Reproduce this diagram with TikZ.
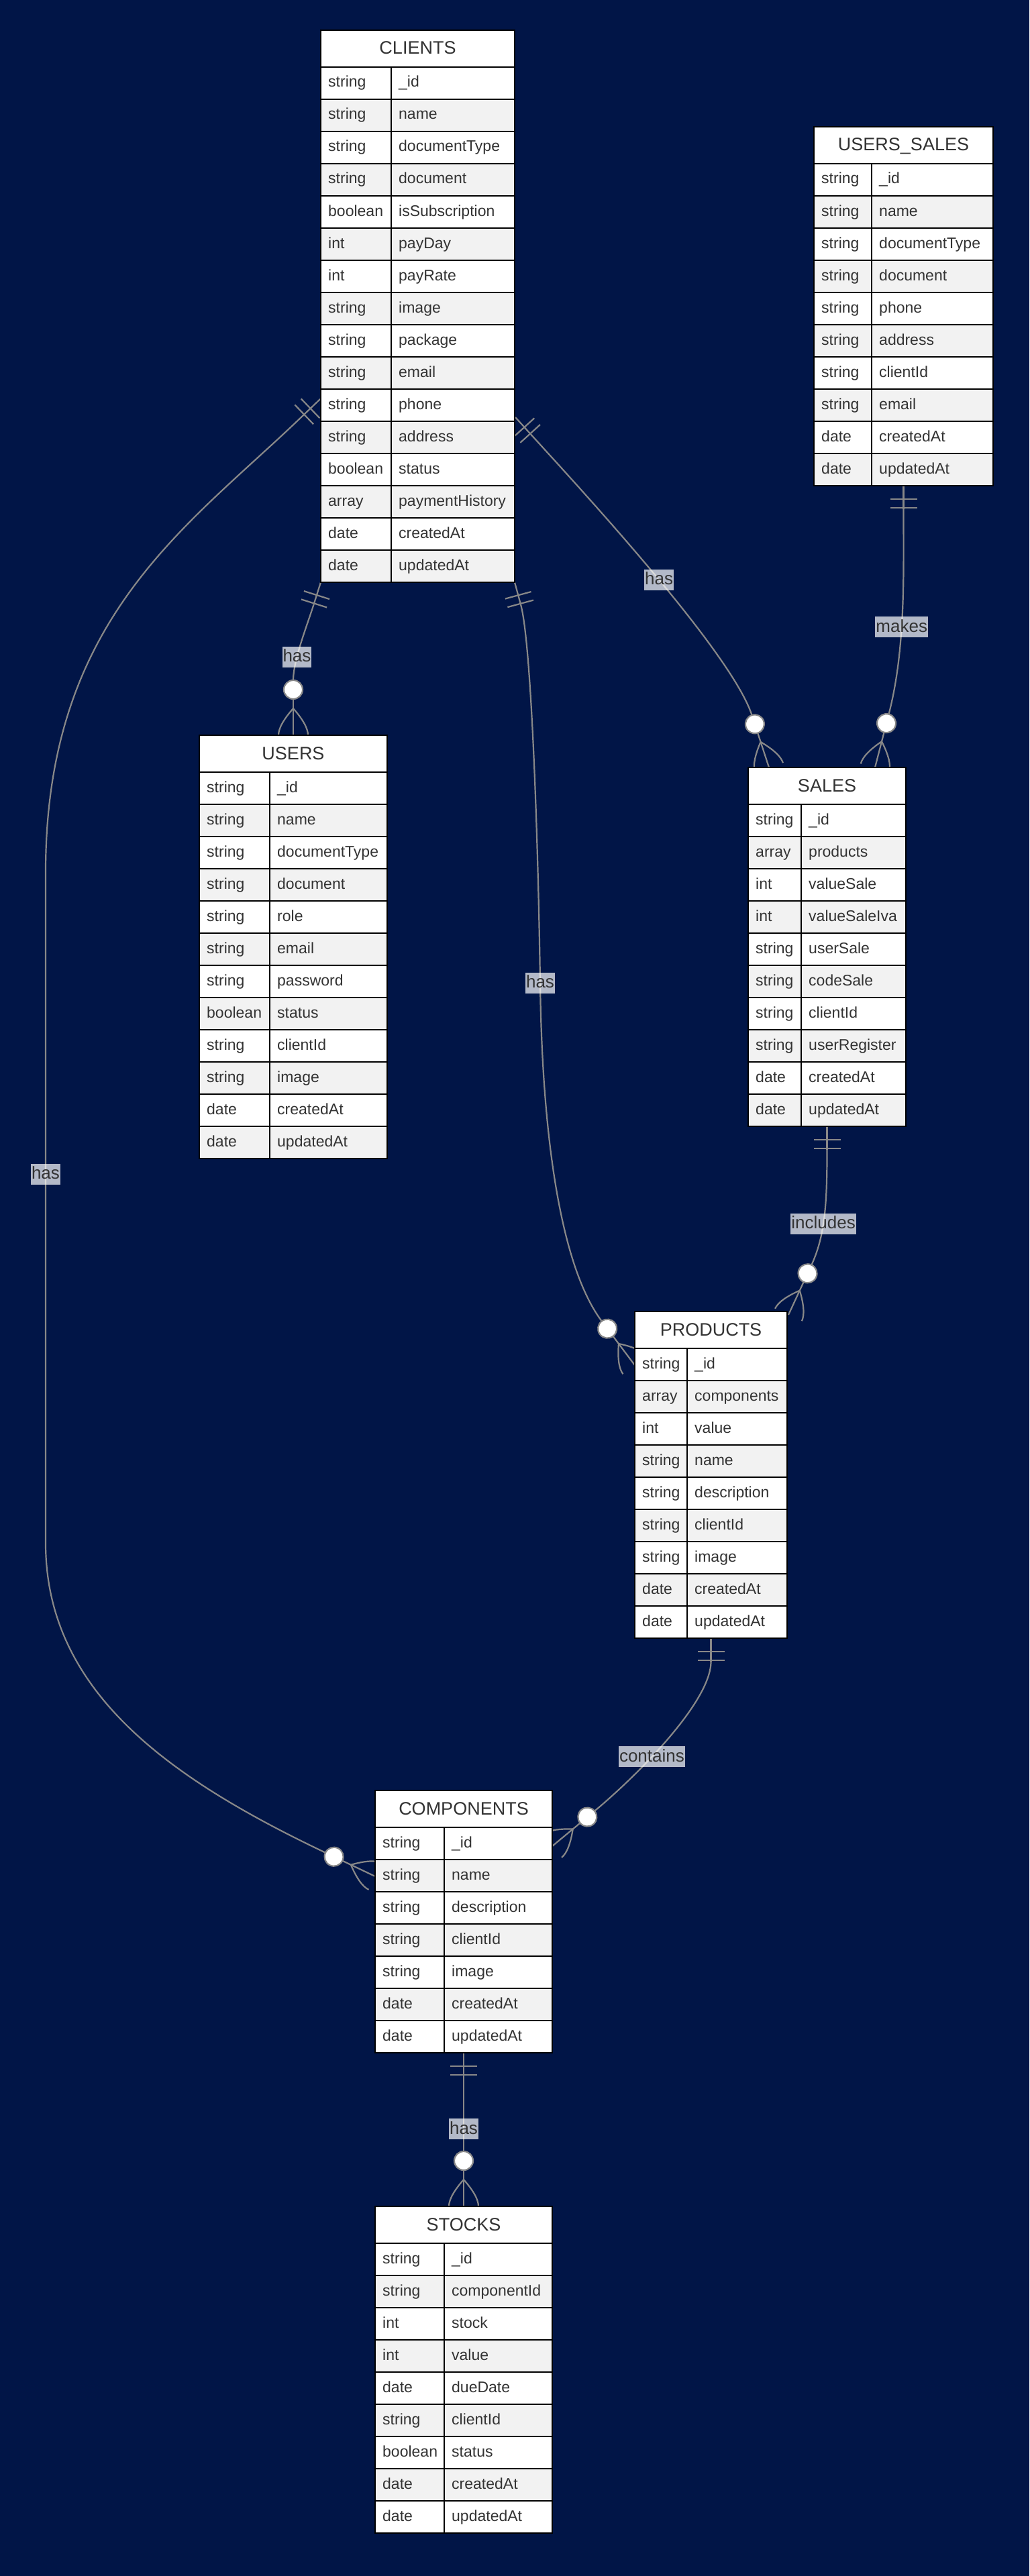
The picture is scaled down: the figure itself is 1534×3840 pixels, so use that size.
\documentclass[tikz,border=0pt]{standalone}
\usepackage{fontspec}
\setmainfont{Liberation Sans}
\usetikzlibrary{calc}
\definecolor{bgnavy}{RGB}{1,21,71}
\definecolor{linegray}{RGB}{136,136,136}
\definecolor{txtgray}{RGB}{51,51,51}
\definecolor{rowgray}{RGB}{242,242,242}
\pgfdeclarelayer{back}
\pgfdeclarelayer{links}
\pgfsetlayers{back,links,main}

\tikzset{
  conn/.style={draw=linegray, line width=2.2pt},
  lbl/.style={fill=white, fill opacity=0.7, text opacity=1, text=txtgray,
    font=\fontsize{26}{31}\selectfont, inner xsep=1pt, inner ysep=1pt,
    text height=22pt, text depth=7pt},
  celltxt/.style={text=txtgray, font=\fontsize{23}{28}\selectfont, anchor=base west, inner sep=0pt},
  hdrtxt/.style={text=txtgray, font=\fontsize{27}{32}\selectfont, anchor=base, inner sep=0pt},
  tabframe/.style={draw=black, line width=2.4pt, anchor=north west, inner sep=0pt, outer sep=0pt},
  gridline/.style={draw=black, line width=2pt},
  pics/onebars/.style={code={
    \draw[conn] (0,0) -- (35,0);
    \draw[conn] (20,-20) -- (20,20);
    \draw[conn] (33,-20) -- (33,20);
  }},
  pics/zeromany/.style={code={
    \draw[conn] (0,0) -- (54,0);
    \draw[conn] (40,0) .. controls (23.3,14.7) and (10,22) .. (0,22);
    \draw[conn] (40,0) .. controls (23.3,-14.7) and (10,-22) .. (0,-22);
    \draw[conn, fill=white] (68,0) circle[radius=14pt];
  }},
}

% #1 name, #2 x, #3 y, #4 width, #5 type width, #6 rows, #7 title, #8 rows list
\newcommand\ertable[8]{%
  \pgfmathsetmacro\erH{55+48*#6}%
  \fill[white] (#2,#3) rectangle ++(#4,55);
  \node[hdrtxt] at (#2+#4/2,#3+36) {#7};
  \foreach \ty/\nm [count=\i] in {#8} {
    \pgfmathsetmacro\ry{#3+55+48*(\i-1)}
    \pgfmathtruncatemacro\odd{mod(\i,2)}
    \ifnum\odd=1 \def\rc{white}\else\def\rc{rowgray}\fi
    \fill[\rc] (#2,\ry) rectangle ++(#4,48);
    \draw[gridline] (#2,\ry) -- ++(#4,0);
    \node[celltxt] at (#2+11,\ry+30) {\ty};
    \node[celltxt] at (#2+#5+11,\ry+30) {\nm};
  }
  \draw[gridline] (#2+#5,#3+55) -- ++(0,48*#6);
  \node[tabframe, minimum width=#4pt, minimum height=\erH pt] (#1) at (#2,#3) {};
}

% #1 S, #2 angle1, #3 k1, #4 E, #5 angle2, #6 k2, #7 label, #8 pos
\newcommand\erlink[8]{%
  \pic[rotate=#2] at (#1) {onebars};
  \pgfmathsetmacro\erka{35+#3}%
  \pgfmathsetmacro\erkb{82+#6}%
  \draw[conn] ($(#1)+(#2:35pt)$) .. controls ($(#1)+(#2:\erka pt)$) and ($(#4)+(#5:\erkb pt)$) .. ($(#4)+(#5:82pt)$) node[lbl, pos=#8] {#7};
  \pic[rotate=#5] at (#4) {zeromany};
}

\begin{document}
\begin{tikzpicture}[x=1pt,y=-1pt]
\begin{pgfonlayer}{back}
  \fill[bgnavy] (0,0) rectangle (1534,3840);
\end{pgfonlayer}
\useasboundingbox (0,0) rectangle (1534,3840);

\ertable{clients}{478}{45}{289}{105}{16}{CLIENTS}{string/\_id, string/name, string/documentType, string/document, boolean/isSubscription, int/payDay, int/payRate, string/image, string/package, string/email, string/phone, string/address, boolean/status, array/paymentHistory, date/createdAt, date/updatedAt}

\ertable{users_sales}{1213}{189}{267}{86}{10}{USERS\_SALES}{string/\_id, string/name, string/documentType, string/document, string/phone, string/address, string/clientId, string/email, date/createdAt, date/updatedAt}

\ertable{users}{297}{1096}{280}{105}{12}{USERS}{string/\_id, string/name, string/documentType, string/document, string/role, string/email, string/password, boolean/status, string/clientId, string/image, date/createdAt, date/updatedAt}

\ertable{sales}{1115}{1144}{235}{79}{10}{SALES}{string/\_id, array/products, int/valueSale, int/valueSaleIva, string/userSale, string/codeSale, string/clientId, string/userRegister, date/createdAt, date/updatedAt}

\ertable{products}{946}{1955}{227}{78}{9}{PRODUCTS}{string/\_id, array/components, int/value, string/name, string/description, string/clientId, string/image, date/createdAt, date/updatedAt}

\ertable{components}{559}{2669}{264}{103}{7}{COMPONENTS}{string/\_id, string/name, string/description, string/clientId, string/image, date/createdAt, date/updatedAt}

\ertable{stocks}{559}{3289}{264}{103}{9}{STOCKS}{string/\_id, string/componentId, int/stock, int/value, date/dueDate, string/clientId, boolean/status, date/createdAt, date/updatedAt}

\begin{pgfonlayer}{links}
  % attachment points
  \coordinate (s1) at (clients.south west);
  \coordinate (e1) at (users.north);
  \coordinate (s2) at ($(clients.north west)+(-1,550)$);
  \coordinate (e2) at ($(components.north west)+(0,128)$);
  \coordinate (s3) at ($(clients.north east)+(1,577)$);
  \coordinate (e3) at ($(sales.north west)+(31,0)$);
  \coordinate (s4) at (users_sales.south);
  \coordinate (e4) at ($(sales.north west)+(189,0)$);
  \coordinate (s5) at (clients.south east);
  \coordinate (e5) at ($(products.north west)+(0,80)$);
  \coordinate (s6) at (sales.south);
  \coordinate (e6) at ($(products.north east)+(2,5)$);
  \coordinate (s7) at (products.south);
  \coordinate (e7) at ($(components.north east)+(0,83)$);
  \coordinate (s8) at (components.south);
  \coordinate (e8) at (stocks.north);

  % CLIENTS -> USERS
  \erlink{s1}{-107.5}{30}{e1}{90}{30}{has}{0.68}
  % CLIENTS -> SALES
  \erlink{s3}{-47.8}{100}{e3}{108.1}{100}{has}{0.53}
  % USERS_SALES -> SALES
  \erlink{s4}{-90}{100}{e4}{75.5}{100}{makes}{0.57}
  % SALES -> PRODUCTS
  \erlink{s6}{-90}{76}{e6}{65.2}{50}{includes}{0.58}
  % PRODUCTS -> COMPONENTS
  \erlink{s7}{-90}{60}{e7}{39.7}{80}{contains}{0.61}
  % COMPONENTS -> STOCKS
  \erlink{s8}{-90}{37}{e8}{90}{37}{has}{0.70}

  % CLIENTS -> COMPONENTS (long left curve)
  \pic[rotate=-136.2] at (s2) {onebars};
  \draw[conn] ($(s2)+(-136.2:35pt)$) .. controls (280,785) and (68,920) .. (68,1300)
     -- node[lbl,pos=0.45]{has} (68,2300)
     .. controls (68,2520) and (250,2650) .. ($(e2)+(154.5:82pt)$);
  \pic[rotate=154.5] at (e2) {zeromany};

  % CLIENTS -> PRODUCTS
  \pic[rotate=-74.8] at (s5) {onebars};
  \draw[conn] ($(s5)+(-74.8:35pt)$) .. controls ($(s5)+(-74.8:95pt)$) and (802,1250) .. (805,1465)
     node[lbl]{has}
     .. controls (808,1700) and ($(e5)+(126.9:182pt)$) .. ($(e5)+(126.9:82pt)$);
  \pic[rotate=126.9] at (e5) {zeromany};
\end{pgfonlayer}
\end{tikzpicture}
\end{document}
